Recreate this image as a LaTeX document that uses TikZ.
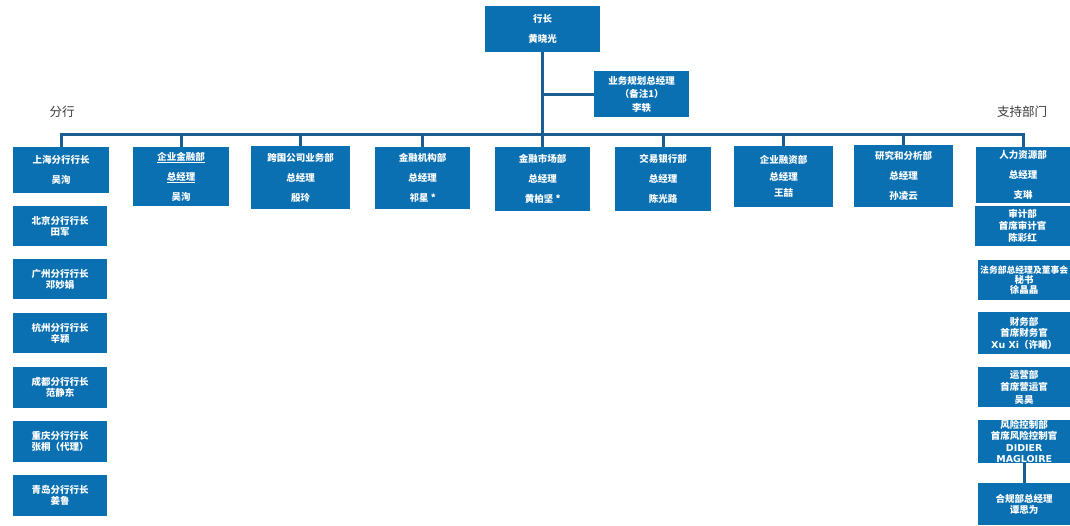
\documentclass[tikz,border=0pt]{standalone}
\usepackage{fontspec}
\newfontfamily\cjk{Noto Sans CJK SC}
\newfontfamily\dejavu{DejaVu Sans}
\definecolor{boxblue}{HTML}{0A70B2}
\definecolor{linkblue}{HTML}{1B5E91}
\definecolor{labelgray}{HTML}{3A3A3A}
\tikzset{
  box/.style={fill=boxblue, draw=none, inner sep=0pt, anchor=north west, text=white, align=center},
  ls/.style={font=\cjk\bfseries\fontsize{9.5}{#1}\selectfont},
  conn/.style={draw=linkblue, line width=3pt, line join=miter},
  lab/.style={text=labelgray, font=\cjk\fontsize{12.5}{14}\selectfont, inner sep=0pt},
}
\begin{document}
\begin{tikzpicture}[x=1pt,y=-1pt]
\useasboundingbox (0,0) rectangle (1070,525);
% top
\node[box, ls=20, minimum width=115, minimum height=46] (top) at (485,6) {行长\\黄晓光};
\node[box, ls=13.5, minimum width=95, minimum height=46] (side) at (594,71) {业务规划总经理\\（备注1）\\李轶};
% row
\node[box, ls=20, minimum width=96, minimum height=46] (sh) at (13,147) {上海分行行长\\吴洵};
\node[box, ls=20, minimum width=96, minimum height=59] (qyjr) at (133,147) {\underline{企业金融部}\\\underline{总经理}\\吴洵};
\node[box, ls=20, minimum width=99, minimum height=63] (kg) at (251,146) {跨国公司业务部\\总经理\\殷玲};
\node[box, ls=20, minimum width=95, minimum height=62] (jrjg) at (375,147) {金融机构部\\总经理\\祁星 *};
\node[box, ls=20, minimum width=95, minimum height=64] (jrsc) at (495,147) {金融市场部\\总经理\\黄柏坚 *};
\node[box, ls=20, minimum width=96, minimum height=64] (jy) at (615,147) {交易银行部\\总经理\\陈光路};
\node[box, ls=16.5, minimum width=99, minimum height=61] (qyrz) at (734,146) {企业融资部\\总经理\\王喆};
\node[box, ls=20, minimum width=99, minimum height=62] (yj) at (854,145) {研究和分析部\\总经理\\孙凌云};
\node[box, ls=20, minimum width=94, minimum height=56] (rl) at (976,147) {人力资源部\\总经理\\支琳};
% right column
\node[box, ls=12, minimum width=95, minimum height=40] (sj) at (975,206) {审计部\\首席审计官\\陈彩红};
\node[box, ls=10, minimum width=92, minimum height=40] (fw) at (978,260) {{\fontsize{8.8}{10}\selectfont 法务部总经理及董事会}\\秘书\\徐晶晶};
\node[box, ls=11.5, minimum width=92, minimum height=42] (cw) at (978,312) {财务部\\首席财务官\\{\dejavu Xu Xi}（许曦）};
\node[box, ls=12.5, minimum width=92, minimum height=40] (yy) at (978,367) {运营部\\首席营运官\\吴昊};
\node[box, ls=11.5, minimum width=92, minimum height=42] (fx) at (978,420) {风险控制部\\首席风险控制官\\{\dejavu DIDIER}\\{\dejavu MAGLOIRE}};
\node[box, ls=11, minimum width=92, minimum height=42] (hg) at (978,483) {合规部总经理\\谭思为};
% left column
\node[box, ls=11, minimum width=94, minimum height=40] (bj) at (13,206) {北京分行行长\\田军};
\node[box, ls=11, minimum width=94, minimum height=40] (gz) at (13,259) {广州分行行长\\邓妙娟};
\node[box, ls=11, minimum width=94, minimum height=40] (hz) at (13,313) {杭州分行行长\\辛颖};
\node[box, ls=11, minimum width=94, minimum height=41] (cd) at (13,367) {成都分行行长\\范静东};
\node[box, ls=11, minimum width=94, minimum height=41] (cq) at (13,421) {重庆分行行长\\张桐（代理）};
\node[box, ls=11, minimum width=94, minimum height=41] (qd) at (13,475) {青岛分行行长\\姜鲁};
% labels
\node[lab] (lfen) at (62,112) {分行};
\node[lab] (lzc) at (1022,112) {支持部门};
% connectors
\coordinate (bar) at (61,134);
\draw[conn] (sh.north) -- (sh.north |- bar) -- (rl.north |- bar) -- (rl.north);
\draw[conn] (top.south) -- (jrsc.north);
\draw[conn] (side.west) -- (top.south |- side.west);
\foreach \n in {qyjr,kg,jrjg,jy,qyrz,yj}
  \draw[conn] (\n.north |- bar) -- (\n.north);
\draw[conn] (fx.south) -- (hg.north);
\end{tikzpicture}
\end{document}
